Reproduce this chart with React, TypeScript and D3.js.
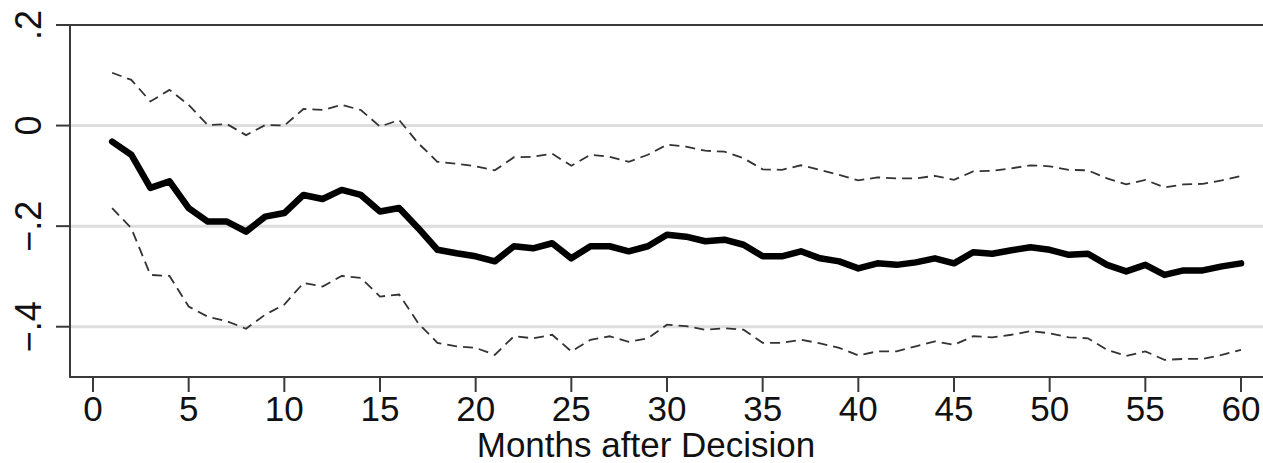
import * as d3 from "d3"

// months after decision
const months = d3.range(1, 61)

// point estimate (thick line)
const estimate = [
  -0.032, -0.058, -0.124, -0.111, -0.164, -0.191, -0.191, -0.211, -0.181, -0.174,
  -0.138, -0.146, -0.128, -0.138, -0.171, -0.164, -0.204, -0.247, -0.254, -0.260,
  -0.270, -0.240, -0.244, -0.234, -0.264, -0.240, -0.240, -0.250, -0.240, -0.217,
  -0.221, -0.230, -0.227, -0.237, -0.260, -0.260, -0.250, -0.264, -0.270, -0.284,
  -0.274, -0.277, -0.272, -0.264, -0.274, -0.252, -0.255, -0.248, -0.242, -0.247,
  -0.257, -0.255, -0.277, -0.290, -0.277, -0.297, -0.288, -0.288, -0.280, -0.274,
]

// upper confidence bound (dashed)
const upper = [
  0.105, 0.091, 0.048, 0.071, 0.041, 0.001, 0.003, -0.019, 0.001, 0.0,
  0.033, 0.031, 0.041, 0.031, -0.002, 0.011, -0.035, -0.072, -0.076, -0.081,
  -0.089, -0.063, -0.062, -0.056, -0.080, -0.058, -0.062, -0.072, -0.058, -0.038,
  -0.042, -0.050, -0.052, -0.065, -0.087, -0.088, -0.079, -0.088, -0.098, -0.109,
  -0.103, -0.105, -0.105, -0.100, -0.108, -0.091, -0.090, -0.085, -0.079, -0.081,
  -0.088, -0.089, -0.105, -0.117, -0.108, -0.123, -0.117, -0.116, -0.109, -0.100,
]

// lower confidence bound (dashed)
const lower = [
  -0.164, -0.204, -0.297, -0.299, -0.360, -0.380, -0.389, -0.404, -0.376, -0.356,
  -0.313, -0.320, -0.299, -0.303, -0.340, -0.336, -0.393, -0.432, -0.439, -0.442,
  -0.456, -0.419, -0.423, -0.416, -0.449, -0.426, -0.419, -0.430, -0.423, -0.396,
  -0.399, -0.406, -0.403, -0.406, -0.432, -0.432, -0.426, -0.433, -0.442, -0.457,
  -0.449, -0.449, -0.439, -0.429, -0.436, -0.419, -0.421, -0.416, -0.409, -0.413,
  -0.421, -0.423, -0.446, -0.458, -0.449, -0.466, -0.464, -0.464, -0.456, -0.446,
]

const xTicks = [0, 5, 10, 15, 20, 25, 30, 35, 40, 45, 50, 55, 60]
const yTicks = [0.2, 0, -0.2, -0.4]
const yTickLabels = [".2", "0", "-.2", "-.4"]
const xTitle = "Months after Decision"

const W = 1263
const H = 463
const font = "'Liberation Sans', Arial, Helvetica, sans-serif"

export default function App() {
  // plot frame
  const left = 70
  const right = W
  const top = 25
  const bottom = 377

  const x = d3.scaleLinear().domain([0, 60]).range([93, 1241])
  const y = d3.scaleLinear().domain([-0.5, 0.2]).range([bottom, top])

  const line = (vals: number[]) =>
    d3
      .line<number>()
      .x((_, i) => x(months[i]))
      .y((d) => y(d))(vals) || ""

  return (
    <div style={{ position: "absolute", left: 0, top: 0 }}>
      <svg width={W} height={H} style={{ display: "block", background: "#fff" }} fontFamily={font}>
        {/* gridlines */}
        {yTicks
          .filter((t) => t < 0.2)
          .map((t) => (
            <line key={"g" + t} x1={left} x2={right} y1={y(t)} y2={y(t)} stroke="#dedede" strokeWidth={3} />
          ))}

        {/* confidence bounds */}
        <path d={line(upper)} fill="none" stroke="#333" strokeWidth={1.8} strokeDasharray="10,6" />
        <path d={line(lower)} fill="none" stroke="#333" strokeWidth={1.8} strokeDasharray="10,6" />

        {/* estimate */}
        <path d={line(estimate)} fill="none" stroke="#000" strokeWidth={6.5} strokeLinejoin="round" strokeLinecap="round" />

        {/* frame */}
        <line x1={left} x2={right} y1={top} y2={top} stroke="#3a3a3a" strokeWidth={2} />
        <line x1={left} x2={left} y1={top - 1} y2={bottom + 1} stroke="#3a3a3a" strokeWidth={2} />
        <line x1={left - 1} x2={right} y1={bottom} y2={bottom} stroke="#3a3a3a" strokeWidth={2} />

        {/* y axis ticks and labels */}
        {yTicks.map((t, i) => (
          <g key={"y" + t}>
            <line x1={left - 14} x2={left} y1={y(t)} y2={y(t)} stroke="#3a3a3a" strokeWidth={2} />
            <text
              transform={`translate(41,${y(t)}) rotate(-90)`}
              textAnchor="middle"
              fontSize={36}
              fill="#111"
            >
              {yTickLabels[i].replace("-", "\u2212")}
            </text>
          </g>
        ))}

        {/* x axis ticks and labels */}
        {xTicks.map((t) => (
          <g key={"x" + t}>
            <line x1={x(t)} x2={x(t)} y1={bottom} y2={bottom + 15} stroke="#3a3a3a" strokeWidth={2} />
            <text x={x(t)} y={421} textAnchor="middle" fontSize={35} fill="#111">
              {t}
            </text>
          </g>
        ))}

        <text x={646} y={457} textAnchor="middle" fontSize={35} fill="#111">
          {xTitle}
        </text>
      </svg>
    </div>
  )
}
